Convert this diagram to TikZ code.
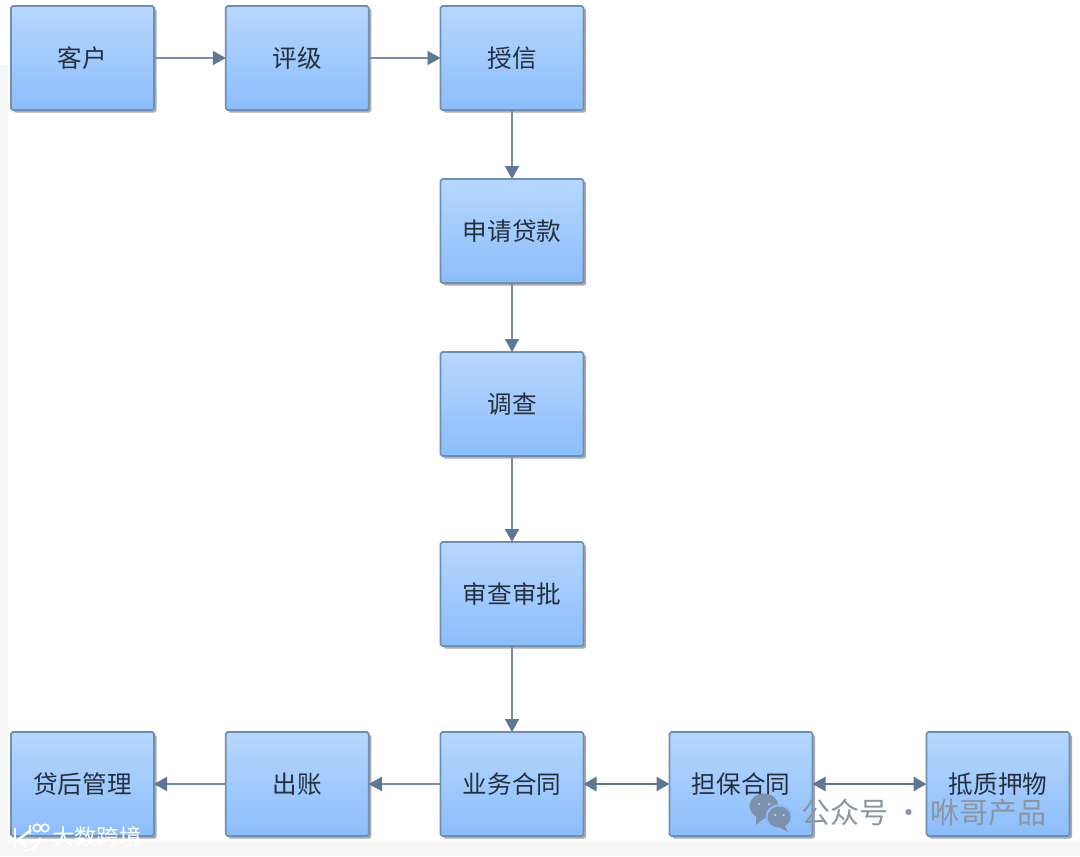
\documentclass[tikz,border=0pt]{standalone}
\usepackage{fontspec}
\setmainfont{Noto Sans CJK SC}
\usetikzlibrary{positioning,arrows.meta,shadows}
\definecolor{boxtop}{HTML}{B7D7FF}
\definecolor{boxbot}{HTML}{8CBDFA}
\definecolor{boxline}{HTML}{6F8FB2}
\definecolor{flowline}{HTML}{7A8DA5}
\definecolor{flowhead}{HTML}{5F7792}
\definecolor{boxtext}{HTML}{25303F}
\definecolor{markgray}{HTML}{8A96A3}
\definecolor{wechat}{HTML}{7C92AC}
\definecolor{strip}{HTML}{F6F6F6}
\tikzset{
  flowbox/.style = {draw = boxline, line width = 1pt, rounded corners = 1pt,
    top color = boxtop, bottom color = boxbot, text = boxtext, outer sep = 0pt,
    minimum width = 2.86cm, minimum height = 2.08cm, inner sep = 0pt,
    font = \fontsize{14}{16}\selectfont,
    drop shadow = {shadow xshift = .05cm, shadow yshift = -.05cm, fill = black!55, opacity = .6}},
  flow/.style = {draw = flowline, line width = 1pt, -{Triangle[length = .26cm, width = .28cm, color = flowhead]}},
  flowboth/.style = {draw = flowhead, line width = 1.5pt, {Triangle[length = .26cm, width = .28cm]}-{Triangle[length = .26cm, width = .28cm]}}
}
\begin{document}
\begin{tikzpicture}
\useasboundingbox[fill = white] (0,0) rectangle (21.6,-17.12);
\fill[strip] (0,-1.3) rectangle (.16,-17.12);
\fill[strip] (0,-16.84) rectangle (21.6,-17.12);

% fila superior
\node[flowbox] (cliente) at (1.65,-1.16) {客户};
\node[flowbox, right = 1.435cm of cliente] (rating) {评级};
\node[flowbox, right = 1.435cm of rating] (credito) {授信};

% columna central
\node[flowbox, below = 1.38cm of credito] (solicitud) {申请贷款};
\node[flowbox, below = 1.38cm of solicitud] (estudio) {调查};
\node[flowbox, below = 1.72cm of estudio] (revision) {审查审批};
\node[flowbox, below = 1.72cm of revision] (contrato) {业务合同};

% fila inferior
\node[flowbox, left = 1.435cm of contrato] (salida) {出账};
\node[flowbox, left = 1.435cm of salida] (posterior) {贷后管理};
\node[flowbox, right = 1.72cm of contrato] (garantia) {担保合同};
\node[flowbox, right = 2.28cm of garantia] (prenda) {抵质押物};

\draw[flow] (cliente) -- (rating);
\draw[flow] (rating) -- (credito);
\draw[flow] (credito) -- (solicitud);
\draw[flow] (solicitud) -- (estudio);
\draw[flow] (estudio) -- (revision);
\draw[flow] (revision) -- (contrato);
\draw[flow] (contrato) -- (salida);
\draw[flow] (salida) -- (posterior);
\draw[flowboth] (contrato) -- (garantia);
\draw[flowboth] (garantia) -- (prenda);

% marcas de agua
\fill[wechat] (15.28,-16.12) ellipse (.29cm and .25cm);
\fill[wechat] (15.12,-16.3) -- (15.12,-16.5) -- (15.32,-16.34) -- cycle;
\fill[boxbot] (15.58,-16.34) ellipse (.27cm and .25cm);
\fill[wechat] (15.58,-16.34) ellipse (.23cm and .21cm);
\fill[wechat] (15.68,-16.5) -- (15.76,-16.64) -- (15.54,-16.52) -- cycle;
\foreach \x/\y in {15.18/-16.08, 15.38/-16.08, 15.5/-16.3, 15.67/-16.3}
  \fill[boxtop] (\x,\y) circle (.025cm);
\node[text = markgray, font = \fontsize{16.5}{18}\selectfont, inner sep = 0pt, anchor = west] (sello) at (16.02,-16.24) {公众号 · 咻哥产品};
\node[text = white, font = \fontsize{12.7}{15}\selectfont, inner sep = 0pt, anchor = west] (origen) at (1.04,-16.74) {大数跨境};
\draw[white, line width = 1.4pt] (.3,-16.55) -- (.3,-16.95);
\draw[white, line width = 1.4pt] (.62,-16.6) -- (.38,-16.78) -- (.52,-16.94);
\draw[white, line width = 1.2pt] (.46,-17.0) arc (260:350:.3cm);
\draw[white, line width = .9pt] (.6,-16.5) -- (.6,-16.68);
\draw[white, line width = .9pt] (.74,-16.56) circle (.075cm) (.9,-16.56) circle (.075cm);
\end{tikzpicture}
\end{document}
